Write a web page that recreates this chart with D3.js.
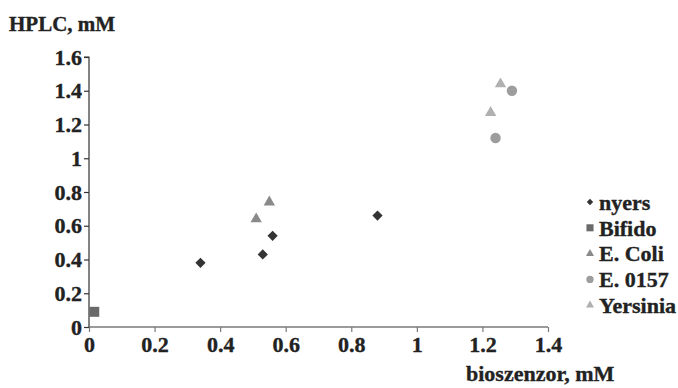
<!DOCTYPE html>
<html>
<head>
<meta charset="utf-8">
<script src="https://cdn.jsdelivr.net/npm/d3@7"></script>
<style>
  body { margin: 0; background: #fff; }
  text { font-family: "Liberation Serif", "Times New Roman", serif; font-weight: bold; fill: #222; stroke: #222; stroke-width: 0.35px; }
</style>
</head>
<body>
<div id="viz"></div>
<script>
// series
const seriesNames = ["nyers", "Bifido", "E. Coli", "E. 0157", "Yersinia"];
const nyersX = [0.34, 0.53, 0.56, 0.88];
const nyersY = [0.38, 0.43, 0.54, 0.66];
const bifidoX = [0.016];
const bifidoY = [0.09];
const ecoliX = [0.51, 0.55];
const ecoliY = [0.64, 0.74];
const e0157X = [1.24, 1.29];
const e0157Y = [1.12, 1.40];
const yersiniaX = [1.225, 1.255];
const yersiniaY = [1.27, 1.44];
const xTicks = [0, 0.2, 0.4, 0.6, 0.8, 1, 1.2, 1.4];
const yTicks = [0, 0.2, 0.4, 0.6, 0.8, 1, 1.2, 1.4, 1.6];

const W = 678, H = 388;
const svg = d3.select("#viz").append("svg")
    .attr("width", W)
    .attr("height", H);

const x = d3.scaleLinear().domain([0, 1.4]).range([89, 548]);
const y = d3.scaleLinear().domain([0, 1.6]).range([327, 57]);

// marker style per series
const styles = [
    { type: d3.symbolSquare, size: 52, rot: 45, fill: "#333333", lsize: 20 },
    { type: d3.symbolSquare, size: 100, rot: 0, fill: "#6a6a6a", lsize: 50 },
    { type: d3.symbolTriangle, size: 56, rot: 0, fill: "#8a8a8a", lsize: 28 },
    { type: d3.symbolCircle, size: 85, rot: 0, fill: "#9d9d9d", lsize: 42 },
    { type: d3.symbolTriangle, size: 56, rot: 0, fill: "#b0b0b0", lsize: 28 }
];

const series = [
    d3.zip(nyersX, nyersY),
    d3.zip(bifidoX, bifidoY),
    d3.zip(ecoliX, ecoliY),
    d3.zip(e0157X, e0157Y),
    d3.zip(yersiniaX, yersiniaY)
];

// axes
const xAxis = d3.axisBottom(x).tickValues(xTicks).tickSize(5).tickSizeOuter(5)
    .tickFormat(d3.format("~g"));
const yAxis = d3.axisLeft(y).tickValues(yTicks).tickSize(5).tickSizeOuter(5)
    .tickFormat(d3.format("~g"));

const gx = svg.append("g")
    .attr("transform", "translate(0,327)")
    .call(xAxis)
    .attr("font-family", null);
gx.select(".domain").attr("stroke", "#7a7a7a").attr("stroke-width", 1.5)
    .attr("d", "M89,0H548");
gx.selectAll(".tick line").attr("stroke", "#7a7a7a").attr("stroke-width", 1.2);
gx.selectAll(".tick text").attr("font-size", 22).attr("dy", "0.71em").attr("y", 9)
    .style("fill", "#222");

const gy = svg.append("g")
    .attr("transform", "translate(89,0)")
    .call(yAxis)
    .attr("font-family", null);
gy.select(".domain").attr("stroke", "#333").attr("stroke-width", 1.2)
    .attr("d", "M-5,57H0V327");
gy.selectAll(".tick line").attr("stroke", "#333").attr("stroke-width", 1.2);
gy.selectAll(".tick text").attr("font-size", 22).attr("x", -7)
    .style("fill", "#222");

// points
series.forEach((pts, i) => {
    const s = styles[i];
    svg.append("g").selectAll("path")
        .data(pts)
        .join("path")
        .attr("d", d3.symbol().type(s.type).size(s.size))
        .attr("transform", d => `translate(${x(d[0])},${y(d[1])}) rotate(${s.rot})`)
        .attr("fill", s.fill);
});

// axis titles
svg.append("text")
    .attr("x", 9).attr("y", 31)
    .attr("font-size", 21)
    .text("HPLC, mM");
svg.append("text")
    .attr("x", 466).attr("y", 381)
    .attr("font-size", 22)
    .text("bioszenzor, mM");

// legend
const legend = svg.append("g").attr("transform", "translate(590,202)");
seriesNames.forEach((name, i) => {
    const s = styles[i];
    const row = legend.append("g").attr("transform", `translate(0,${i * 25.8})`);
    row.append("path")
        .attr("d", d3.symbol().type(s.type).size(s.lsize))
        .attr("transform", `rotate(${s.rot})`)
        .attr("fill", s.fill);
    row.append("text")
        .attr("x", 9).attr("dy", "0.35em")
        .attr("font-size", 22)
        .text(name);
});
</script>
</body>
</html>
